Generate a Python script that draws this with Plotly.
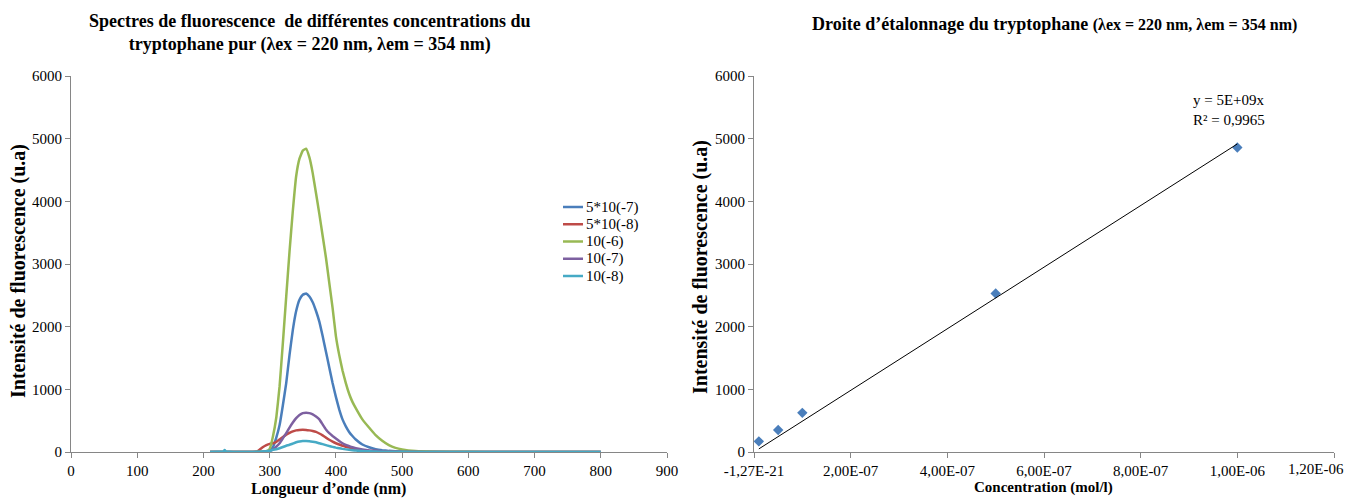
import numpy as np
import plotly.graph_objects as go

# ---------------- data ----------------
wavelength = [210, 220, 230, 232, 234, 240, 250, 260, 270, 280, 285, 290, 295,
              300, 305, 310, 315, 320, 325, 330, 335, 340, 345, 350, 355, 360, 365,
              370, 375, 380, 385, 390, 395, 400, 405, 410, 415,
              420, 425, 430, 440, 450, 460, 470, 480, 490, 500,
              520, 550, 600, 650, 700, 750, 800]

s_5e7 = [0, 0, 0, 0, 0, 0, 0, 0, 0, 0, 1, 3, 8,
         20, 80, 230, 430, 750, 1100, 1550, 1950, 2250, 2430, 2510, 2530, 2480, 2390,
         2250, 2080, 1850, 1600, 1350, 1100, 880, 680, 520, 410,
         320, 255, 200, 120, 75, 45, 28, 18, 12, 8,
         4, 2, 0, 0, 0, 0, 0]

s_5e8 = [0, 0, 0, 0, 0, 0, 0, 0, 0, 5, 40, 80, 110,
         130, 140, 160, 200, 240, 275, 305, 330, 345, 352, 355, 352, 345, 335,
         320, 295, 265, 230, 195, 165, 140, 120, 100, 85,
         70, 57, 45, 30, 20, 14, 10, 7, 6, 5,
         3, 1, 0, 0, 0, 0, 0]

s_1e6 = [0, 0, 0, 0, 0, 0, 0, 0, 0, 2, 4, 6, 15,
         50, 250, 550, 1050, 1750, 2480, 3200, 3850, 4400, 4680, 4810, 4840, 4700, 4450,
         4130, 3800, 3450, 3100, 2700, 2300, 1850, 1550, 1300, 1100,
         930, 800, 700, 520, 390, 270, 180, 110, 65, 40,
         15, 5, 2, 0, 0, 0, 0]

s_1e7 = [0, 0, 0, 0, 0, 0, 0, 0, 0, 0, 1, 3, 7,
         15, 40, 85, 140, 220, 300, 390, 470, 540, 590, 620, 628, 620, 600,
         565, 520, 440, 360, 300, 255, 215, 175, 140, 115,
         95, 75, 60, 40, 25, 18, 12, 8, 6, 5,
         3, 1, 0, 0, 0, 0, 0]

s_1e8 = [0, 2, 5, 30, 5, 2, 0, 0, 0, 3, 5, 8, 12,
         20, 35, 45, 60, 80, 100, 115, 135, 155, 168, 175, 176, 172, 165,
         155, 140, 125, 110, 95, 82, 70, 60, 50, 42,
         35, 28, 22, 15, 10, 7, 5, 3, 2, 2,
         1, 0, 0, 0, 0, 0, 0]

series_names = ["5*10(-7)", "5*10(-8)", "10(-6)", "10(-7)", "10(-8)"]
series_values = [s_5e7, s_5e8, s_1e6, s_1e7, s_1e8]
series_colors = ["#4a7ebb", "#be4b48", "#98b954", "#7d60a0", "#46aac5"]

concentration = [1e-8, 5e-8, 1e-7, 5e-7, 1e-6]
intensity = [170, 350, 625, 2530, 4860]

conc_tickvals = [0, 2e-7, 4e-7, 6e-7, 8e-7, 1e-6, 1.2e-6]
conc_ticktext = ["-1,27E-21", "2,00E-07", "4,00E-07", "6,00E-07", "8,00E-07", "1,00E-06", "1,20E-06"]

# ---------------- figure ----------------
OFF = 8                      # page body margin of the html page
W, H = 1359 - OFF, 498 - OFF
ML, MR, MT, MB = 50, 10, 60, 30
PW, PH = W - ML - MR, H - MT - MB
FONT = "Liberation Serif"
AXC = "#868686"


def px_x(p):
    return (p - OFF - ML) / PW


def px_y(p):
    return (H - MB - (p - OFF)) / PH


fig = go.Figure()

for name, vals, col in zip(series_names, series_values, series_colors):
    fig.add_trace(go.Scatter(x=wavelength, y=vals, mode="lines", name=name,
                             line=dict(color=col, width=2.5, shape="spline", smoothing=0.3),
                             showlegend=False, xaxis="x", yaxis="y"))

fig.add_trace(go.Scatter(x=concentration, y=intensity, mode="markers",
                         marker=dict(symbol="diamond", size=8, color="#4a7ebb"),
                         showlegend=False, xaxis="x2", yaxis="y2"))

cx = np.array(concentration)
cy = np.array(intensity)
slope = float((cx * cy).sum() / (cx * cx).sum())
tx = [float(cx.min()), float(cx.max())]
fig.add_trace(go.Scatter(x=tx, y=[slope * v for v in tx], mode="lines",
                         line=dict(color="black", width=1), showlegend=False,
                         xaxis="x2", yaxis="y2"))

ydom = [px_y(452), px_y(76)]
axis_common = dict(showgrid=False, zeroline=False, showline=True, linecolor=AXC, linewidth=1,
                   ticks="outside", ticklen=5, tickcolor=AXC, automargin=False,
                   ticklabeloverflow="allow",
                   tickfont=dict(family=FONT, size=15, color="black"))

# the last concentration label would run past the page edge: it is written
# right-aligned against the edge instead of centred on its tick
shown_ticktext = conc_ticktext[:-1] + [""]

fig.update_layout(
    width=W, height=H,
    margin=dict(l=ML, r=MR, t=MT, b=MB, autoexpand=False),
    paper_bgcolor="white", plot_bgcolor="white",
    font=dict(family=FONT, color="black"),
    xaxis=dict(domain=[px_x(71), px_x(667)], range=[0, 900], dtick=100, anchor="y", **axis_common),
    yaxis=dict(domain=ydom, range=[0, 6000], dtick=1000, anchor="x", **axis_common),
    xaxis2=dict(domain=[px_x(754), px_x(1334)], range=[0, 1.2e-6], tickvals=conc_tickvals,
                ticktext=shown_ticktext, anchor="y2", **axis_common),
    yaxis2=dict(domain=ydom, range=[0, 6000], dtick=1000, anchor="x2", **axis_common),
    showlegend=False,
)


def txt(x, y, text, size, bold=False, angle=0, xanchor="center"):
    return dict(x=px_x(x), y=px_y(y), xref="paper", yref="paper", showarrow=False,
                xanchor=xanchor, yanchor="middle", textangle=angle,
                align=xanchor if xanchor != "center" else "center",
                text=("<b>%s</b>" % text) if bold else text,
                font=dict(family=FONT, size=size, color="black"))


ann = [
    txt(309, 33, "Spectres de fluorescence  de différentes concentrations du<br>tryptophane pur (λex = 220 nm, λem = 354 nm)", 18, bold=True),
    txt(1054, 24, "Droite d’étalonnage du tryptophane <span style='font-size:16px'>(λex = 220 nm, λem = 354 nm)</span>", 18, bold=True),
    txt(328, 489, "Longueur d’onde (nm)", 16, bold=True),
    txt(18, 271, "Intensité de fluorescence (u.a)", 20, bold=True, angle=-90),
    txt(1043, 487, "Concentration (mol/l)", 15, bold=True),
    txt(700, 267, "Intensité de fluorescence (u.a)", 20, bold=True, angle=-90),
    txt(1191, 110, "y = 5E+09x<br>R² = 0,9965", 15, xanchor="left"),
    txt(1346, 469, conc_ticktext[-1], 15, xanchor="right"),
]

# legend (drawn as line samples + labels, one per series)
shapes = []
for i, (name, col) in enumerate(zip(series_names, series_colors)):
    yy = 207 + 17.25 * i
    shapes.append(dict(type="line", xref="paper", yref="paper",
                       x0=px_x(563), x1=px_x(583), y0=px_y(yy), y1=px_y(yy),
                       line=dict(color=col, width=2.5)))
    ann.append(txt(584, yy, name, 15, xanchor="left"))

fig.update_layout(annotations=ann, shapes=shapes)

fig.write_html("out.html")
